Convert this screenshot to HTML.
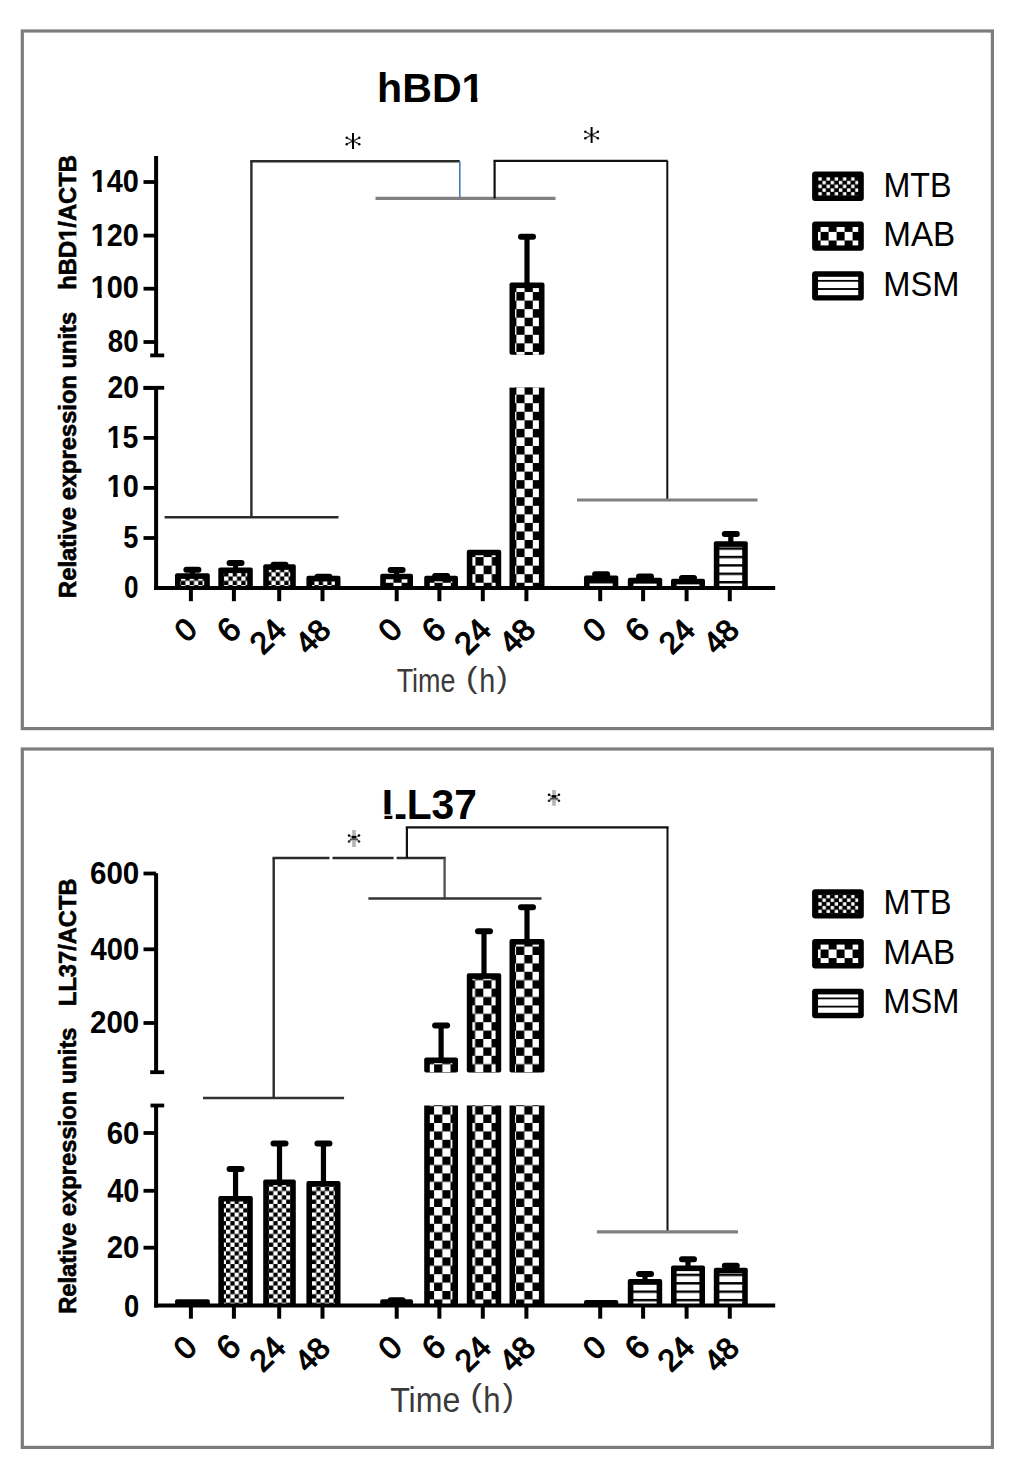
<!DOCTYPE html>
<html><head><meta charset="utf-8"><style>
html,body{margin:0;padding:0;background:#fff;overflow:hidden;width:1024px;height:1478px;}
svg{display:block;}
text{font-family:"Liberation Sans",sans-serif;}
</style></head><body>
<svg width="1024" height="1478" viewBox="0 0 1024 1478">
<rect width="1024" height="1478" fill="#fff"/>
<defs><pattern id="mtb1" patternUnits="userSpaceOnUse" x="0.5" y="0.3" width="8.6" height="8.6"><rect width="8.6" height="8.6" fill="#000"/><rect x="0.00" y="0.00" width="4.3" height="4.3" fill="#fff"/><rect x="4.30" y="4.30" width="4.3" height="4.3" fill="#fff"/></pattern><pattern id="mab1" patternUnits="userSpaceOnUse" x="516.4" y="283.5" width="16.4" height="17.1"><rect width="16.4" height="17.1" fill="#000"/><rect x="0" y="0" width="8.2" height="8.55" fill="#fff"/><rect x="8.2" y="8.55" width="8.2" height="8.55" fill="#fff"/></pattern><pattern id="msm1" patternUnits="userSpaceOnUse" x="0" y="555.80" width="20" height="8.4"><rect width="20" height="8.4" fill="#fff"/><rect width="20" height="2.4" fill="#000"/></pattern><pattern id="mtb2" patternUnits="userSpaceOnUse" x="269.0" y="1186.7" width="8.6" height="8.6"><rect width="8.6" height="8.6" fill="#000"/><rect x="0.00" y="0.00" width="4.3" height="4.3" fill="#fff"/><rect x="4.30" y="4.30" width="4.3" height="4.3" fill="#fff"/></pattern><pattern id="mab2" patternUnits="userSpaceOnUse" x="434.1" y="1139.8" width="16.4" height="16.8"><rect width="16.4" height="16.8" fill="#000"/><rect x="0" y="0" width="8.2" height="8.4" fill="#fff"/><rect x="8.2" y="8.4" width="8.2" height="8.4" fill="#fff"/></pattern><pattern id="msm2" patternUnits="userSpaceOnUse" x="0" y="1298.90" width="20" height="8.4"><rect width="20" height="8.4" fill="#fff"/><rect width="20" height="2.4" fill="#000"/></pattern><pattern id="lg1a" patternUnits="userSpaceOnUse" x="818.0" y="177.0" width="8.2" height="7.5"><rect width="8.2" height="7.5" fill="#000"/><rect x="0.35" y="0.18" width="3.4" height="3.4" fill="#fff"/><rect x="4.45" y="3.92" width="3.4" height="3.4" fill="#fff"/></pattern><pattern id="lg1b" patternUnits="userSpaceOnUse" x="812.6" y="223.29999999999998" width="16.0" height="17.2"><rect width="16.0" height="17.2" fill="#fff"/><rect x="0" y="0" width="8.0" height="8.6" fill="#000"/><rect x="8.0" y="8.6" width="8.0" height="8.6" fill="#000"/></pattern><pattern id="lg1c" patternUnits="userSpaceOnUse" x="0" y="279.90" width="20" height="8.2"><rect width="20" height="8.2" fill="#fff"/><rect width="20" height="1.8" fill="#000"/></pattern><pattern id="lg2a" patternUnits="userSpaceOnUse" x="818.0" y="894.6" width="8.2" height="7.5"><rect width="8.2" height="7.5" fill="#000"/><rect x="0.35" y="0.18" width="3.4" height="3.4" fill="#fff"/><rect x="4.45" y="3.92" width="3.4" height="3.4" fill="#fff"/></pattern><pattern id="lg2b" patternUnits="userSpaceOnUse" x="812.6" y="940.9" width="16.0" height="17.2"><rect width="16.0" height="17.2" fill="#fff"/><rect x="0" y="0" width="8.0" height="8.6" fill="#000"/><rect x="8.0" y="8.6" width="8.0" height="8.6" fill="#000"/></pattern><pattern id="lg2c" patternUnits="userSpaceOnUse" x="0" y="997.50" width="20" height="8.2"><rect width="20" height="8.2" fill="#fff"/><rect width="20" height="1.8" fill="#000"/></pattern></defs>
<rect x="22.3" y="31" width="970.1" height="697.6" fill="none" stroke="#7c7c7c" stroke-width="3.2"/>
<rect x="22.3" y="749" width="970.1" height="698.4" fill="none" stroke="#7c7c7c" stroke-width="3.2"/>
<g id="bars1">
<rect x="175.00" y="573.30" width="34.80" height="14.70" rx="2" fill="#000"/>
<rect x="180.60" y="578.90" width="23.60" height="9.10" fill="url(#mtb1)"/>
<rect x="189.80" y="568.70" width="5.2" height="6.60" fill="#000"/>
<rect x="183.40" y="566.70" width="18" height="6" rx="3" fill="#000"/>
<rect x="218.30" y="567.50" width="34.50" height="20.50" rx="2" fill="#000"/>
<rect x="223.90" y="573.10" width="23.30" height="14.90" fill="url(#mtb1)"/>
<rect x="232.95" y="562.00" width="5.2" height="7.50" fill="#000"/>
<rect x="226.55" y="560.00" width="18" height="6" rx="3" fill="#000"/>
<rect x="263.20" y="564.30" width="32.60" height="23.70" rx="2" fill="#000"/>
<rect x="268.80" y="569.90" width="21.40" height="18.10" fill="url(#mtb1)"/>
<rect x="276.90" y="563.70" width="5.2" height="2.60" fill="#000"/>
<rect x="270.50" y="561.70" width="18" height="6" rx="3" fill="#000"/>
<rect x="306.40" y="575.80" width="34.10" height="12.20" rx="2" fill="#000"/>
<rect x="312.00" y="581.40" width="22.90" height="6.60" fill="url(#mtb1)"/>
<rect x="320.85" y="575.80" width="5.2" height="2.00" fill="#000"/>
<rect x="314.45" y="573.80" width="18" height="6" rx="3" fill="#000"/>
<rect x="380.20" y="573.70" width="32.80" height="14.30" rx="2" fill="#000"/>
<rect x="385.80" y="579.30" width="21.60" height="8.70" fill="url(#mab1)"/>
<rect x="394.00" y="568.90" width="5.2" height="6.80" fill="#000"/>
<rect x="387.60" y="566.90" width="18" height="6" rx="3" fill="#000"/>
<rect x="424.20" y="575.70" width="33.80" height="12.30" rx="2" fill="#000"/>
<rect x="429.80" y="581.30" width="22.60" height="6.70" fill="url(#mab1)"/>
<rect x="438.50" y="575.00" width="5.2" height="2.70" fill="#000"/>
<rect x="432.10" y="573.00" width="18" height="6" rx="3" fill="#000"/>
<rect x="466.80" y="549.70" width="34.40" height="38.30" rx="2" fill="#000"/>
<rect x="472.40" y="555.30" width="23.20" height="32.70" fill="url(#mab1)"/>
<rect x="509.50" y="282.50" width="35.00" height="72.30" rx="2" fill="#000"/>
<rect x="515.10" y="288.10" width="23.80" height="66.70" fill="url(#mab1)"/>
<rect x="509.50" y="387.60" width="35.00" height="200.40" fill="#000"/>
<rect x="515.10" y="387.60" width="23.80" height="200.40" fill="url(#mab1)"/>
<rect x="524.40" y="235.80" width="5.2" height="48.70" fill="#000"/>
<rect x="518.00" y="233.80" width="18" height="6" rx="3" fill="#000"/>
<rect x="584.00" y="575.60" width="34.30" height="12.40" rx="2" fill="#000"/>
<rect x="589.60" y="581.20" width="23.10" height="6.80" fill="url(#msm1)"/>
<rect x="598.55" y="573.30" width="5.2" height="4.30" fill="#000"/>
<rect x="592.15" y="571.30" width="18" height="6" rx="3" fill="#000"/>
<rect x="627.80" y="577.70" width="34.40" height="10.30" rx="2" fill="#000"/>
<rect x="633.40" y="583.30" width="23.20" height="4.70" fill="url(#msm1)"/>
<rect x="642.40" y="575.40" width="5.2" height="4.30" fill="#000"/>
<rect x="636.00" y="573.40" width="18" height="6" rx="3" fill="#000"/>
<rect x="671.00" y="578.80" width="34.00" height="9.20" rx="2" fill="#000"/>
<rect x="676.60" y="584.40" width="22.80" height="3.60" fill="url(#msm1)"/>
<rect x="685.40" y="577.00" width="5.2" height="3.80" fill="#000"/>
<rect x="679.00" y="575.00" width="18" height="6" rx="3" fill="#000"/>
<rect x="713.80" y="541.30" width="34.00" height="46.70" rx="2" fill="#000"/>
<rect x="719.40" y="546.90" width="22.80" height="41.10" fill="url(#msm1)"/>
<rect x="728.20" y="533.00" width="5.2" height="10.30" fill="#000"/>
<rect x="721.80" y="531.00" width="18" height="6" rx="3" fill="#000"/>
</g>
<line x1="156.1" y1="155.9" x2="156.1" y2="355.4" stroke="#000" stroke-width="4"/>
<line x1="150.2" y1="355.4" x2="164.2" y2="355.4" stroke="#000" stroke-width="3.8"/>
<line x1="143.5" y1="182" x2="156.1" y2="182" stroke="#000" stroke-width="3.8"/>
<line x1="143.5" y1="235.6" x2="156.1" y2="235.6" stroke="#000" stroke-width="3.8"/>
<line x1="143.5" y1="288.7" x2="156.1" y2="288.7" stroke="#000" stroke-width="3.8"/>
<line x1="143.5" y1="342.0" x2="156.1" y2="342.0" stroke="#000" stroke-width="3.8"/>
<line x1="156.1" y1="387.8" x2="156.1" y2="590.0" stroke="#000" stroke-width="4"/>
<line x1="143.6" y1="387.8" x2="164.2" y2="387.8" stroke="#000" stroke-width="3.8"/>
<line x1="143.5" y1="388.0" x2="156.1" y2="388.0" stroke="#000" stroke-width="3.8"/>
<line x1="143.5" y1="437.9" x2="156.1" y2="437.9" stroke="#000" stroke-width="3.8"/>
<line x1="143.5" y1="487.9" x2="156.1" y2="487.9" stroke="#000" stroke-width="3.8"/>
<line x1="143.5" y1="538.0" x2="156.1" y2="538.0" stroke="#000" stroke-width="3.8"/>
<line x1="154.1" y1="588.0" x2="775.2" y2="588.0" stroke="#000" stroke-width="3.8"/>
<line x1="190.90" y1="588.0" x2="190.90" y2="601.2" stroke="#000" stroke-width="4"/>
<line x1="233.90" y1="588.0" x2="233.90" y2="601.2" stroke="#000" stroke-width="4"/>
<line x1="279.20" y1="588.0" x2="279.20" y2="601.2" stroke="#000" stroke-width="4"/>
<line x1="322.50" y1="588.0" x2="322.50" y2="601.2" stroke="#000" stroke-width="4"/>
<line x1="396.70" y1="588.0" x2="396.70" y2="601.2" stroke="#000" stroke-width="4"/>
<line x1="439.40" y1="588.0" x2="439.40" y2="601.2" stroke="#000" stroke-width="4"/>
<line x1="482.80" y1="588.0" x2="482.80" y2="601.2" stroke="#000" stroke-width="4"/>
<line x1="526.40" y1="588.0" x2="526.40" y2="601.2" stroke="#000" stroke-width="4"/>
<line x1="600.20" y1="588.0" x2="600.20" y2="601.2" stroke="#000" stroke-width="4"/>
<line x1="643.10" y1="588.0" x2="643.10" y2="601.2" stroke="#000" stroke-width="4"/>
<line x1="686.60" y1="588.0" x2="686.60" y2="601.2" stroke="#000" stroke-width="4"/>
<line x1="729.80" y1="588.0" x2="729.80" y2="601.2" stroke="#000" stroke-width="4"/>
<g id="bars2">
<rect x="175.00" y="1299.30" width="34.80" height="6.20" rx="2" fill="#000"/>
<rect x="180.60" y="1304.90" width="23.60" height="0.60" fill="url(#mtb2)"/>
<rect x="218.30" y="1195.90" width="34.50" height="109.60" rx="2" fill="#000"/>
<rect x="223.90" y="1201.50" width="23.30" height="104.00" fill="url(#mtb2)"/>
<rect x="232.95" y="1168.00" width="5.2" height="29.90" fill="#000"/>
<rect x="226.55" y="1166.00" width="18" height="6" rx="3" fill="#000"/>
<rect x="263.20" y="1179.50" width="32.60" height="126.00" rx="2" fill="#000"/>
<rect x="268.80" y="1185.10" width="21.40" height="120.40" fill="url(#mtb2)"/>
<rect x="276.90" y="1142.50" width="5.2" height="39.00" fill="#000"/>
<rect x="270.50" y="1140.50" width="18" height="6" rx="3" fill="#000"/>
<rect x="306.40" y="1181.00" width="34.10" height="124.50" rx="2" fill="#000"/>
<rect x="312.00" y="1186.60" width="22.90" height="118.90" fill="url(#mtb2)"/>
<rect x="320.85" y="1142.50" width="5.2" height="40.50" fill="#000"/>
<rect x="314.45" y="1140.50" width="18" height="6" rx="3" fill="#000"/>
<rect x="380.20" y="1299.30" width="32.80" height="6.20" rx="2" fill="#000"/>
<rect x="385.80" y="1304.90" width="21.60" height="0.60" fill="url(#mab2)"/>
<rect x="394.00" y="1299.30" width="5.2" height="2.00" fill="#000"/>
<rect x="387.60" y="1297.30" width="18" height="6" rx="3" fill="#000"/>
<rect x="424.20" y="1057.40" width="33.80" height="15.10" rx="2" fill="#000"/>
<rect x="429.80" y="1063.00" width="22.60" height="9.50" fill="url(#mab2)"/>
<rect x="424.20" y="1105.50" width="33.80" height="200.00" fill="#000"/>
<rect x="429.80" y="1105.50" width="22.60" height="200.00" fill="url(#mab2)"/>
<rect x="438.50" y="1024.50" width="5.2" height="34.90" fill="#000"/>
<rect x="432.10" y="1022.50" width="18" height="6" rx="3" fill="#000"/>
<rect x="466.80" y="973.30" width="34.40" height="99.20" rx="2" fill="#000"/>
<rect x="472.40" y="978.90" width="23.20" height="93.60" fill="url(#mab2)"/>
<rect x="466.80" y="1105.50" width="34.40" height="200.00" fill="#000"/>
<rect x="472.40" y="1105.50" width="23.20" height="200.00" fill="url(#mab2)"/>
<rect x="481.40" y="930.20" width="5.2" height="45.10" fill="#000"/>
<rect x="475.00" y="928.20" width="18" height="6" rx="3" fill="#000"/>
<rect x="509.50" y="939.00" width="35.00" height="133.50" rx="2" fill="#000"/>
<rect x="515.10" y="944.60" width="23.80" height="127.90" fill="url(#mab2)"/>
<rect x="509.50" y="1105.50" width="35.00" height="200.00" fill="#000"/>
<rect x="515.10" y="1105.50" width="23.80" height="200.00" fill="url(#mab2)"/>
<rect x="524.40" y="906.20" width="5.2" height="34.80" fill="#000"/>
<rect x="518.00" y="904.20" width="18" height="6" rx="3" fill="#000"/>
<rect x="584.00" y="1299.90" width="34.30" height="5.60" rx="2" fill="#000"/>
<rect x="627.80" y="1279.00" width="34.40" height="26.50" rx="2" fill="#000"/>
<rect x="633.40" y="1284.60" width="23.20" height="20.90" fill="url(#msm2)"/>
<rect x="642.40" y="1272.90" width="5.2" height="8.10" fill="#000"/>
<rect x="636.00" y="1270.90" width="18" height="6" rx="3" fill="#000"/>
<rect x="671.00" y="1265.50" width="34.00" height="40.00" rx="2" fill="#000"/>
<rect x="676.60" y="1271.10" width="22.80" height="34.40" fill="url(#msm2)"/>
<rect x="685.40" y="1258.30" width="5.2" height="9.20" fill="#000"/>
<rect x="679.00" y="1256.30" width="18" height="6" rx="3" fill="#000"/>
<rect x="713.80" y="1267.70" width="34.00" height="37.80" rx="2" fill="#000"/>
<rect x="719.40" y="1273.30" width="22.80" height="32.20" fill="url(#msm2)"/>
<rect x="728.20" y="1264.70" width="5.2" height="5.00" fill="#000"/>
<rect x="721.80" y="1262.70" width="18" height="6" rx="3" fill="#000"/>
</g>
<line x1="156.1" y1="873.3" x2="156.1" y2="1072.2" stroke="#000" stroke-width="4"/>
<line x1="150.2" y1="1072.2" x2="164.2" y2="1072.2" stroke="#000" stroke-width="3.8"/>
<line x1="143.5" y1="873.5" x2="156.1" y2="873.5" stroke="#000" stroke-width="3.8"/>
<line x1="143.5" y1="949.3" x2="156.1" y2="949.3" stroke="#000" stroke-width="3.8"/>
<line x1="143.5" y1="1023.0" x2="156.1" y2="1023.0" stroke="#000" stroke-width="3.8"/>
<line x1="156.1" y1="1105.5" x2="156.1" y2="1307.5" stroke="#000" stroke-width="4"/>
<line x1="150.5" y1="1105.5" x2="164.2" y2="1105.5" stroke="#000" stroke-width="3.8"/>
<line x1="143.5" y1="1133.0" x2="156.1" y2="1133.0" stroke="#000" stroke-width="3.8"/>
<line x1="143.5" y1="1190.8" x2="156.1" y2="1190.8" stroke="#000" stroke-width="3.8"/>
<line x1="143.5" y1="1247.7" x2="156.1" y2="1247.7" stroke="#000" stroke-width="3.8"/>
<line x1="154.1" y1="1305.5" x2="775.2" y2="1305.5" stroke="#000" stroke-width="3.8"/>
<line x1="190.90" y1="1305.5" x2="190.90" y2="1318.7" stroke="#000" stroke-width="4"/>
<line x1="233.90" y1="1305.5" x2="233.90" y2="1318.7" stroke="#000" stroke-width="4"/>
<line x1="279.20" y1="1305.5" x2="279.20" y2="1318.7" stroke="#000" stroke-width="4"/>
<line x1="322.50" y1="1305.5" x2="322.50" y2="1318.7" stroke="#000" stroke-width="4"/>
<line x1="396.70" y1="1305.5" x2="396.70" y2="1318.7" stroke="#000" stroke-width="4"/>
<line x1="439.40" y1="1305.5" x2="439.40" y2="1318.7" stroke="#000" stroke-width="4"/>
<line x1="482.80" y1="1305.5" x2="482.80" y2="1318.7" stroke="#000" stroke-width="4"/>
<line x1="526.40" y1="1305.5" x2="526.40" y2="1318.7" stroke="#000" stroke-width="4"/>
<line x1="600.20" y1="1305.5" x2="600.20" y2="1318.7" stroke="#000" stroke-width="4"/>
<line x1="643.10" y1="1305.5" x2="643.10" y2="1318.7" stroke="#000" stroke-width="4"/>
<line x1="686.60" y1="1305.5" x2="686.60" y2="1318.7" stroke="#000" stroke-width="4"/>
<line x1="729.80" y1="1305.5" x2="729.80" y2="1318.7" stroke="#000" stroke-width="4"/>
<g id="brk">
<line x1="164.6" y1="517.2" x2="338.5" y2="517.2" stroke="#2b2b2b" stroke-width="2.4"/>
<line x1="251.4" y1="517.2" x2="251.4" y2="161.3" stroke="#2b2b2b" stroke-width="2.4"/>
<line x1="250.2" y1="161.3" x2="459.8" y2="161.3" stroke="#2b2b2b" stroke-width="2.4"/>
<line x1="459.8" y1="161.3" x2="459.8" y2="198.4" stroke="#4a78c0" stroke-width="1.6"/>
<line x1="375.5" y1="198.4" x2="555.5" y2="198.4" stroke="#808080" stroke-width="3.2"/>
<line x1="494.6" y1="198.4" x2="494.6" y2="160.8" stroke="#111" stroke-width="2.2"/>
<line x1="493.5" y1="160.8" x2="667.6" y2="160.8" stroke="#111" stroke-width="2.2"/>
<line x1="667.3" y1="160.8" x2="667.3" y2="500" stroke="#111" stroke-width="2.0"/>
<line x1="577" y1="500" x2="757.5" y2="500" stroke="#808080" stroke-width="3.2"/>
<line x1="203" y1="1098" x2="344.1" y2="1098" stroke="#333" stroke-width="2.6"/>
<line x1="273.7" y1="1098" x2="273.7" y2="858" stroke="#2b2b2b" stroke-width="2.4"/>
<line x1="272.5" y1="858" x2="445.8" y2="858" stroke="#2b2b2b" stroke-width="2.4"/>
<line x1="444.6" y1="858" x2="444.6" y2="898.5" stroke="#555" stroke-width="2.4"/>
<line x1="368.4" y1="898.5" x2="541.5" y2="898.5" stroke="#333" stroke-width="2.4"/>
<line x1="406.9" y1="858" x2="406.9" y2="827.4" stroke="#111" stroke-width="2.2"/>
<line x1="405.8" y1="827.4" x2="668.6" y2="827.4" stroke="#111" stroke-width="2.2"/>
<line x1="667.5" y1="827.4" x2="667.5" y2="1231.8" stroke="#111" stroke-width="2.0"/>
<line x1="596.9" y1="1231.8" x2="738" y2="1231.8" stroke="#808080" stroke-width="3.2"/>
<rect x="329.5" y="855.5" width="3" height="6" fill="#fff"/><rect x="393.6" y="855.5" width="3" height="6" fill="#fff"/>
</g>
<path d="M346.70,137.80L359.30,144.20M346.70,144.20L359.30,137.80" stroke="#444" stroke-width="1.3" fill="none"/><path d="M353.00,133.00V149.00" stroke="#000" stroke-width="2.0" fill="none"/><circle cx="346.70" cy="137.80" r="1.2" fill="#000"/><circle cx="359.30" cy="137.80" r="1.2" fill="#000"/><circle cx="346.70" cy="144.20" r="1.2" fill="#000"/><circle cx="359.30" cy="144.20" r="1.2" fill="#000"/>
<path d="M585.30,131.80L597.90,138.20M585.30,138.20L597.90,131.80" stroke="#444" stroke-width="1.3" fill="none"/><path d="M591.60,127.00V143.00" stroke="#000" stroke-width="2.0" fill="none"/><circle cx="585.30" cy="131.80" r="1.2" fill="#000"/><circle cx="597.90" cy="131.80" r="1.2" fill="#000"/><circle cx="585.30" cy="138.20" r="1.2" fill="#000"/><circle cx="597.90" cy="138.20" r="1.2" fill="#000"/>
<rect x="352.20" y="830.00" width="3.6" height="17.00" fill="#b4b4b4"/><path d="M349.00,835.40L359.00,841.50M349.00,841.50L359.00,835.40" stroke="#888" stroke-width="1.4"/><rect x="351.80" y="835.85" width="4.4" height="2.6" fill="#000"/><rect x="349.80" y="838.45" width="8.4" height="1.6" fill="#555"/><circle cx="349.00" cy="835.40" r="1.25" fill="#000"/><circle cx="359.00" cy="835.40" r="1.25" fill="#000"/><circle cx="349.00" cy="841.50" r="1.25" fill="#222"/><circle cx="359.00" cy="841.50" r="1.25" fill="#222"/>
<rect x="552.20" y="790.00" width="3.6" height="15.70" fill="#b4b4b4"/><path d="M549.00,794.70L559.00,800.80M549.00,800.80L559.00,794.70" stroke="#888" stroke-width="1.4"/><rect x="551.80" y="795.15" width="4.4" height="2.6" fill="#000"/><rect x="549.80" y="797.75" width="8.4" height="1.6" fill="#555"/><circle cx="549.00" cy="794.70" r="1.25" fill="#000"/><circle cx="559.00" cy="794.70" r="1.25" fill="#000"/><circle cx="549.00" cy="800.80" r="1.25" fill="#222"/><circle cx="559.00" cy="800.80" r="1.25" fill="#222"/>
<rect x="812.1" y="171.60" width="51.7" height="29.4" rx="3" fill="#000"/>
<rect x="818" y="177.20" width="40.2" height="18.4" fill="url(#lg1a)"/>
<rect x="812.1" y="221.40" width="51.7" height="29.4" rx="3" fill="#000"/>
<rect x="818" y="227.00" width="40.2" height="18.4" fill="url(#lg1b)"/>
<rect x="812.1" y="271.20" width="51.7" height="29.4" rx="3" fill="#000"/>
<rect x="818" y="276.80" width="40.2" height="18.4" fill="url(#lg1c)"/>
<rect x="812.1" y="889.20" width="51.7" height="29.4" rx="3" fill="#000"/>
<rect x="818" y="894.80" width="40.2" height="18.4" fill="url(#lg2a)"/>
<rect x="812.1" y="939.00" width="51.7" height="29.4" rx="3" fill="#000"/>
<rect x="818" y="944.60" width="40.2" height="18.4" fill="url(#lg2b)"/>
<rect x="812.1" y="988.80" width="51.7" height="29.4" rx="3" fill="#000"/>
<rect x="818" y="994.40" width="40.2" height="18.4" fill="url(#lg2c)"/>
<g id="texts">
<text id="t_hbd1" class="t" transform="translate(377.08,101.77) scale(1.0183,1)" font-size="40.41" font-weight="bold" fill="#000">hBD1</text><g class="ff" transform="translate(377.08,101.77) scale(1.0183,1) scale(0.01973)"><rect x="4259" y="-330" width="408" height="380" fill="#fff"/><rect x="4991" y="-330" width="338" height="380" fill="#fff"/></g>
<text id="t_ll37" class="t" transform="translate(381.77,819.28) scale(0.9757,1)" font-size="41.82" font-weight="bold" fill="#000">LL37</text>
<text id="y1_140" class="t" transform="translate(90.75,191.68) scale(0.9157,1)" font-size="31.52" font-weight="bold" fill="#000">140</text><g class="ff" transform="translate(90.75,191.68) scale(0.9157,1) scale(0.01539)"><rect x="50" y="-330" width="408" height="380" fill="#fff"/><rect x="782" y="-330" width="338" height="380" fill="#fff"/></g>
<text id="y1_120" class="t" transform="translate(90.75,245.73) scale(0.9157,1)" font-size="31.52" font-weight="bold" fill="#000">120</text><g class="ff" transform="translate(90.75,245.73) scale(0.9157,1) scale(0.01539)"><rect x="50" y="-330" width="408" height="380" fill="#fff"/><rect x="782" y="-330" width="338" height="380" fill="#fff"/></g>
<text id="y1_100" class="t" transform="translate(90.75,298.47) scale(0.9157,1)" font-size="31.52" font-weight="bold" fill="#000">100</text><g class="ff" transform="translate(90.75,298.47) scale(0.9157,1) scale(0.01539)"><rect x="50" y="-330" width="408" height="380" fill="#fff"/><rect x="782" y="-330" width="338" height="380" fill="#fff"/></g>
<text id="y1_80" class="t" transform="translate(107.76,352.47) scale(0.8779,1)" font-size="31.52" font-weight="bold" fill="#000">80</text>
<text id="y1_20" class="t" transform="translate(107.56,398.26) scale(0.8990,1)" font-size="31.52" font-weight="bold" fill="#000">20</text>
<text id="y1_15" class="t" transform="translate(106.78,447.89) scale(0.8904,1)" font-size="31.97" font-weight="bold" fill="#000">15</text><g class="ff" transform="translate(106.78,447.89) scale(0.8904,1) scale(0.01561)"><rect x="50" y="-330" width="408" height="380" fill="#fff"/><rect x="782" y="-330" width="338" height="380" fill="#fff"/></g>
<text id="y1_10" class="t" transform="translate(106.75,497.31) scale(0.9155,1)" font-size="31.52" font-weight="bold" fill="#000">10</text><g class="ff" transform="translate(106.75,497.31) scale(0.9155,1) scale(0.01539)"><rect x="50" y="-330" width="408" height="380" fill="#fff"/><rect x="782" y="-330" width="338" height="380" fill="#fff"/></g>
<text id="y1_5" class="t" transform="translate(123.30,548.47) scale(0.8517,1)" font-size="31.97" font-weight="bold" fill="#000">5</text>
<text id="y1_0" class="t" transform="translate(124.05,598.31) scale(0.8289,1)" font-size="31.52" font-weight="bold" fill="#000">0</text>
<text id="y2_600" class="t" transform="translate(89.97,884.16) scale(0.9198,1)" font-size="32.14" font-weight="bold" fill="#000">600</text>
<text id="y2_400" class="t" transform="translate(90.56,959.64) scale(0.9084,1)" font-size="32.14" font-weight="bold" fill="#000">400</text>
<text id="y2_200" class="t" transform="translate(89.97,1032.70) scale(0.9198,1)" font-size="32.14" font-weight="bold" fill="#000">200</text>
<text id="y2_60" class="t" transform="translate(106.69,1143.66) scale(0.9136,1)" font-size="32.14" font-weight="bold" fill="#000">60</text>
<text id="y2_40" class="t" transform="translate(107.33,1202.16) scale(0.8906,1)" font-size="32.34" font-weight="bold" fill="#000">40</text>
<text id="y2_20" class="t" transform="translate(106.65,1257.70) scale(0.9136,1)" font-size="32.14" font-weight="bold" fill="#000">20</text>
<text id="y2_0" class="t" transform="translate(123.91,1316.64) scale(0.8516,1)" font-size="32.14" font-weight="bold" fill="#000">0</text>
<text id="v1a" class="t" transform="translate(76.10,597.94) rotate(-90) scale(1.0141,1)" font-size="23.41" font-weight="bold" fill="#000" stroke="#000" stroke-width="0.6">Relative expression units</text>
<text id="v1b" class="t" transform="translate(76.10,289.71) rotate(-90) scale(1.0161,1)" font-size="23.41" font-weight="bold" fill="#000" stroke="#000" stroke-width="0.6">hBD1/ACTB</text><g class="ff" transform="translate(76.10,289.71) rotate(-90) scale(1.0161,1) scale(0.01143)"><rect x="4259" y="-330" width="408" height="380" fill="#fff"/><rect x="4991" y="-330" width="338" height="380" fill="#fff"/></g>
<text id="v2a" class="t" transform="translate(75.50,1313.84) rotate(-90) scale(0.9803,1)" font-size="24.23" font-weight="bold" fill="#000" stroke="#000" stroke-width="0.6">Relative expression units</text>
<text id="v2b" class="t" transform="translate(75.50,1006.04) rotate(-90) scale(0.9773,1)" font-size="24.23" font-weight="bold" fill="#000" stroke="#000" stroke-width="0.6">LL37/ACTB</text>
<text id="l1a" class="t" transform="translate(883.47,196.57) scale(0.9379,1)" font-size="34.36" font-weight="normal" fill="#000">MTB</text>
<text id="l1b" class="t" transform="translate(883.21,245.95) scale(0.9720,1)" font-size="34.20" font-weight="normal" fill="#000">MAB</text>
<text id="l1c" class="t" transform="translate(883.30,295.83) scale(0.9438,1)" font-size="34.60" font-weight="normal" fill="#000">MSM</text>
<text id="l2a" class="t" transform="translate(883.47,914.15) scale(0.9379,1)" font-size="34.36" font-weight="normal" fill="#000">MTB</text>
<text id="l2b" class="t" transform="translate(883.21,963.53) scale(0.9720,1)" font-size="34.20" font-weight="normal" fill="#000">MAB</text>
<text id="l2c" class="t" transform="translate(883.30,1012.87) scale(0.9438,1)" font-size="34.60" font-weight="normal" fill="#000">MSM</text>
<text id="x1T" class="t" transform="translate(396.67,691.98) scale(0.8191,1)" font-size="32.83" font-weight="normal" fill="#3a3a3a">Time</text>
<text id="x1h" class="t" transform="translate(479.26,692.06) scale(0.8824,1)" font-size="32.66" font-weight="normal" fill="#3a3a3a">h</text>
<text id="x1p1" class="t" transform="translate(466.10,688.10) scale(1.2027,1)" font-size="28.76" font-weight="normal" fill="#3a3a3a">(</text>
<text id="x1p2" class="t" transform="translate(496.74,687.74) scale(1.1321,1)" font-size="28.76" font-weight="normal" fill="#3a3a3a">)</text>
<text id="x2T" class="t" transform="translate(390.16,1411.90) scale(0.9287,1)" font-size="34.63" font-weight="normal" fill="#3a3a3a">Time</text>
<text id="x2h" class="t" transform="translate(483.16,1411.65) scale(0.8793,1)" font-size="35.37" font-weight="normal" fill="#3a3a3a">h</text>
<text id="x2p1" class="t" transform="translate(470.41,1406.35) scale(1.0983,1)" font-size="31.49" font-weight="normal" fill="#3a3a3a">(</text>
<text id="x2p2" class="t" transform="translate(502.63,1406.35) scale(1.0505,1)" font-size="31.49" font-weight="normal" fill="#3a3a3a">)</text>
<text id="d0_0" class="t" transform="translate(198.54,631.22) scale(0.9343,1) rotate(-45)" text-anchor="end" font-size="31.74" font-weight="normal" fill="#000" stroke="#000" stroke-width="1.1">0</text>
<text id="d0_1" class="t" transform="translate(242.89,631.22) scale(0.9342,1) rotate(-45)" text-anchor="end" font-size="34.14" font-weight="normal" fill="#000" stroke="#000" stroke-width="1.1">6</text>
<text id="d0_2" class="t" transform="translate(288.01,631.76) scale(1.0426,1) rotate(-45)" text-anchor="end" font-size="30.56" font-weight="normal" fill="#000" stroke="#000" stroke-width="1.1">24</text>
<text id="d0_3" class="t" transform="translate(332.39,631.94) scale(1.0338,1) rotate(-45)" text-anchor="end" font-size="29.87" font-weight="normal" fill="#000" stroke="#000" stroke-width="1.1">48</text>
<text id="d0_4" class="t" transform="translate(403.89,631.22) scale(1.0083,1) rotate(-45)" text-anchor="end" font-size="31.12" font-weight="normal" fill="#000" stroke="#000" stroke-width="1.1">0</text>
<text id="d0_5" class="t" transform="translate(447.49,631.22) scale(0.9327,1) rotate(-45)" text-anchor="end" font-size="34.11" font-weight="normal" fill="#000" stroke="#000" stroke-width="1.1">6</text>
<text id="d0_6" class="t" transform="translate(492.96,631.76) scale(1.0382,1) rotate(-45)" text-anchor="end" font-size="31.03" font-weight="normal" fill="#000" stroke="#000" stroke-width="1.1">24</text>
<text id="d0_7" class="t" transform="translate(537.19,631.49) scale(1.0585,1) rotate(-45)" text-anchor="end" font-size="29.98" font-weight="normal" fill="#000" stroke="#000" stroke-width="1.1">48</text>
<text id="d0_8" class="t" transform="translate(607.84,631.22) scale(0.9360,1) rotate(-45)" text-anchor="end" font-size="32.89" font-weight="normal" fill="#000" stroke="#000" stroke-width="1.1">0</text>
<text id="d0_9" class="t" transform="translate(651.19,631.22) scale(0.9710,1) rotate(-45)" text-anchor="end" font-size="33.34" font-weight="normal" fill="#000" stroke="#000" stroke-width="1.1">6</text>
<text id="d0_10" class="t" transform="translate(696.76,631.76) scale(1.0395,1) rotate(-45)" text-anchor="end" font-size="30.22" font-weight="normal" fill="#000" stroke="#000" stroke-width="1.1">24</text>
<text id="d0_11" class="t" transform="translate(741.04,631.94) scale(1.0558,1) rotate(-45)" text-anchor="end" font-size="29.99" font-weight="normal" fill="#000" stroke="#000" stroke-width="1.1">48</text>
<text id="d1_0" class="t" transform="translate(198.54,1349.17) scale(0.9717,1) rotate(-45)" text-anchor="end" font-size="31.58" font-weight="normal" fill="#000" stroke="#000" stroke-width="1.1">0</text>
<text id="d1_1" class="t" transform="translate(242.44,1348.72) scale(0.9336,1) rotate(-45)" text-anchor="end" font-size="34.59" font-weight="normal" fill="#000" stroke="#000" stroke-width="1.1">6</text>
<text id="d1_2" class="t" transform="translate(287.56,1349.26) scale(1.0374,1) rotate(-45)" text-anchor="end" font-size="30.55" font-weight="normal" fill="#000" stroke="#000" stroke-width="1.1">24</text>
<text id="d1_3" class="t" transform="translate(331.94,1349.89) scale(1.0330,1) rotate(-45)" text-anchor="end" font-size="29.96" font-weight="normal" fill="#000" stroke="#000" stroke-width="1.1">48</text>
<text id="d1_4" class="t" transform="translate(403.89,1349.17) scale(0.9717,1) rotate(-45)" text-anchor="end" font-size="32.19" font-weight="normal" fill="#000" stroke="#000" stroke-width="1.1">0</text>
<text id="d1_5" class="t" transform="translate(447.49,1348.72) scale(0.9336,1) rotate(-45)" text-anchor="end" font-size="33.88" font-weight="normal" fill="#000" stroke="#000" stroke-width="1.1">6</text>
<text id="d1_6" class="t" transform="translate(492.96,1349.26) scale(1.0363,1) rotate(-45)" text-anchor="end" font-size="30.55" font-weight="normal" fill="#000" stroke="#000" stroke-width="1.1">24</text>
<text id="d1_7" class="t" transform="translate(537.19,1349.44) scale(1.0326,1) rotate(-45)" text-anchor="end" font-size="30.73" font-weight="normal" fill="#000" stroke="#000" stroke-width="1.1">48</text>
<text id="d1_8" class="t" transform="translate(607.84,1349.17) scale(0.9713,1) rotate(-45)" text-anchor="end" font-size="31.58" font-weight="normal" fill="#000" stroke="#000" stroke-width="1.1">0</text>
<text id="d1_9" class="t" transform="translate(651.64,1348.72) scale(1.0058,1) rotate(-45)" text-anchor="end" font-size="33.12" font-weight="normal" fill="#000" stroke="#000" stroke-width="1.1">6</text>
<text id="d1_10" class="t" transform="translate(696.31,1349.26) scale(1.0614,1) rotate(-45)" text-anchor="end" font-size="30.35" font-weight="normal" fill="#000" stroke="#000" stroke-width="1.1">24</text>
<text id="d1_11" class="t" transform="translate(741.04,1349.89) scale(1.0330,1) rotate(-45)" text-anchor="end" font-size="29.96" font-weight="normal" fill="#000" stroke="#000" stroke-width="1.1">48</text>
</g>
<rect x="383" y="814.3" width="11.5" height="1.5" fill="#fff"/><rect x="392.4" y="814" width="3.4" height="6.5" fill="#fff"/>
</svg>
</body></html>
